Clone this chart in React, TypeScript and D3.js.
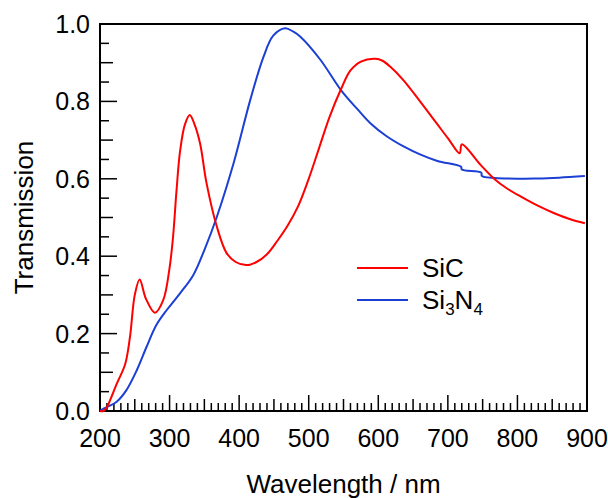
import React from 'react';
import * as d3 from 'd3';

// wavelength (nm) / transmission pairs
const sicWavelength = [
  200, 205, 210, 215, 224, 236, 243, 250, 257, 266, 279, 291, 300, 305, 310, 315, 322, 329,
  336, 344, 353, 368, 382, 395, 410, 425, 440, 455, 470, 485, 500, 515, 530, 546, 560, 575,
  596, 606, 617, 636, 660, 684, 700, 717, 720, 747, 766, 785, 805, 830, 853, 875, 897
];
const sicValues = [
  0.0, 0.0, 0.01, 0.03, 0.07, 0.12, 0.19, 0.3, 0.34, 0.29, 0.254, 0.287, 0.37, 0.45, 0.57,
  0.67, 0.74, 0.765, 0.74, 0.69, 0.59, 0.476, 0.408, 0.385, 0.377, 0.385, 0.405, 0.44, 0.48,
  0.53, 0.6, 0.68, 0.76, 0.83, 0.88, 0.903, 0.91, 0.905, 0.89, 0.855, 0.8, 0.743, 0.705,
  0.666, 0.689, 0.636, 0.601, 0.575, 0.554, 0.53, 0.511, 0.496, 0.485
];

const sinWavelength = [
  200, 204, 212, 224, 238, 253, 267, 281, 296, 315, 334, 350, 368, 392, 416, 435, 449, 466,
  478, 488, 517, 546, 570, 589, 612, 637, 660, 685, 719, 720, 748, 749, 781, 829, 860, 897
];
const sinValues = [
  0.0, 0.005, 0.012, 0.024, 0.054, 0.106, 0.166, 0.222, 0.261, 0.304, 0.351, 0.416, 0.502,
  0.64, 0.804, 0.915, 0.97, 0.989, 0.98, 0.967, 0.907, 0.83, 0.78, 0.743, 0.71, 0.683, 0.663,
  0.646, 0.631, 0.624, 0.616, 0.607, 0.601, 0.601, 0.603, 0.607
];

const xTickLabels = [200, 300, 400, 500, 600, 700, 800, 900];
const yTickLabels = [0, 0.2, 0.4, 0.6, 0.8, 1.0];

const left = 100;
const right = 587;
const top = 24;
const bottom = 411;
const font = '"Liberation Sans", Arial, sans-serif';

export default function App() {
  const x = d3.scaleLinear().domain([200, 900]).range([left, right]);
  const y = d3.scaleLinear().domain([0, 1]).range([bottom, top]);

  const line = d3
    .line<[number, number]>()
    .x(d => x(d[0]))
    .y(d => y(d[1]))
    .curve(d3.curveCatmullRom.alpha(0.5));

  const sicPath = line(sicWavelength.map((w, i) => [w, sicValues[i]]));
  const sinPath = line(sinWavelength.map((w, i) => [w, sinValues[i]]));

  // x ticks every 10 nm, longer at 50 and 100
  const xMinor = d3.range(200, 901, 10);
  const xLen = (v: number) => (v % 100 === 0 ? 16 : v % 50 === 0 ? 12 : 8);
  // y ticks every 0.05, longer at 0.1 and 0.2
  const yMinor = d3.range(0, 21).map(i => i * 5);
  const yLen = (k: number) => (k % 20 === 0 ? 17 : k % 10 === 0 ? 13 : 9);

  return (
    <svg
      width={608}
      height={498}
      style={{ position: 'absolute', left: 0, top: 0, background: '#fff' }}
    >
      <g stroke="#000" strokeWidth={1.5}>
        {xMinor.map(v => (
          <line key={'x' + v} x1={x(v)} x2={x(v)} y1={bottom} y2={bottom - xLen(v)} />
        ))}
        {yMinor.map(k => (
          <line key={'y' + k} x1={left} x2={left + yLen(k)} y1={y(k / 100)} y2={y(k / 100)} />
        ))}
      </g>
      <rect
        x={left}
        y={top}
        width={right - left}
        height={bottom - top}
        fill="none"
        stroke="#000"
        strokeWidth={2}
      />

      <path d={sinPath || ''} fill="none" stroke="#1c3fd4" strokeWidth={2} />
      <path d={sicPath || ''} fill="none" stroke="#ff0000" strokeWidth={2} />

      <g fontFamily={font} fontSize={25} fill="#000">
        {xTickLabels.map(v => (
          <text key={v} x={x(v)} y={447} textAnchor="middle">
            {v}
          </text>
        ))}
        {yTickLabels.map(v => (
          <text key={v} x={90} y={y(v)} dy="0.36em" textAnchor="end">
            {d3.format('.1f')(v)}
          </text>
        ))}
        <text x={(left + right) / 2} y={493} textAnchor="middle" fontSize={26}>
          Wavelength / nm
        </text>
        <text
          transform={`translate(33, ${(top + bottom) / 2}) rotate(-90)`}
          textAnchor="middle"
          fontSize={26}
        >
          Transmission
        </text>
      </g>

      <g fontFamily={font} fontSize={26} fill="#000">
        <line x1={357} x2={408} y1={268} y2={268} stroke="#ff0000" strokeWidth={2} />
        <text x={422} y={277}>SiC</text>
        <line x1={357} x2={408} y1={300} y2={300} stroke="#1c3fd4" strokeWidth={2} />
        <text x={422} y={309}>
          Si
          <tspan fontSize={17} dy={6}>3</tspan>
          <tspan dy={-6}>N</tspan>
          <tspan fontSize={17} dy={6}>4</tspan>
        </text>
      </g>
    </svg>
  );
}
